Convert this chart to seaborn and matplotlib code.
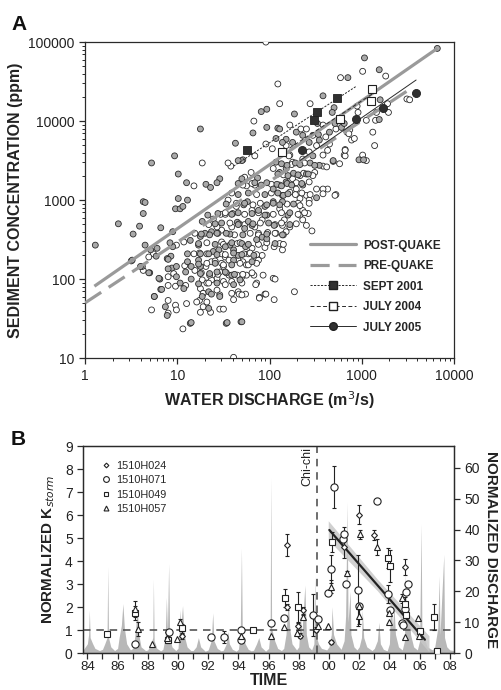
import numpy as np
import pandas as pd
import matplotlib
matplotlib.use("Agg")
import matplotlib.pyplot as plt
import seaborn as sns
from matplotlib.lines import Line2D
from matplotlib.ticker import LogLocator, NullFormatter, FixedLocator, FixedFormatter

sns.set_theme(style="ticks")
plt.rcParams['font.family'] = ['Liberation Sans', 'DejaVu Sans']

# ---------------- Panel A data (log10 discharge m3/s, log10 concentration ppm) -------------
gray_pts = [
    (3.03,4.80),(3.19,4.65),(2.85,4.55),(3.82,4.92),(2.58,4.32),(3.20,4.27),(1.97,4.15),(1.91,4.12),
    (2.70,4.17),(2.27,4.09),(3.19,4.02),(2.68,4.11),(1.25,3.90),(1.97,3.92),(2.09,3.91),(1.82,3.85),
    (2.18,3.77),(1.63,3.72),(2.53,3.83),(2.47,3.56),(2.69,3.49),(0.97,3.56),(0.72,3.47),(1.01,3.33),
    (1.46,3.27),(1.10,3.22),(1.31,3.20),(1.36,3.16),(1.43,3.22),(1.87,3.28),(0.63,2.98),(0.65,2.97),
    (0.63,2.83),(1.01,3.02),(1.11,3.00),(0.98,2.89),(1.03,2.89),(1.06,2.92),(0.36,2.70),(0.59,2.67),
    (0.52,2.57),(0.82,2.65),(0.95,2.60),(0.11,2.43),(0.65,2.43),(0.62,2.16),(0.70,2.08),(0.81,2.00),
    (0.75,1.78),(0.82,1.87),(0.89,1.54),(0.94,2.14),(0.93,2.29),(0.89,2.26),(1.14,1.44),(1.53,1.44),
    (1.69,1.46),(1.70,3.50),(1.66,3.50),(1.70,3.27),(1.84,3.22),
    (2.97,3.51),(3.02,3.51),(2.78,3.92),(2.81,3.97),(2.71,3.97),(2.69,3.50),(2.51,3.03),(2.36,3.19),
    (2.14,3.06),(2.04,3.14),(2.18,3.23),(2.40,3.33),(2.54,3.44),(2.54,3.76),(2.65,3.86),(2.52,3.97),
    (2.18,3.40),(2.11,3.35),(2.07,3.48),(2.14,3.73),(2.29,3.86),(2.25,3.73),(2.36,3.82),(2.07,3.78),
    (2.43,3.73),(2.11,3.90),
    (2.04,2.98),(2.14,2.98),(2.20,2.81),(2.05,2.68),(2.14,2.56),
    (1.27,2.73),(1.33,2.81),(1.72,2.94),(1.76,2.98),(1.88,2.87),(1.95,2.92),(1.97,2.81),(1.65,2.72),
    (1.67,2.70),(1.77,2.73),(1.81,2.68),(1.73,2.64),(1.57,2.57),(1.37,2.60),(1.43,2.58),(1.30,2.58),
    (1.25,2.54),(1.14,2.49),(0.95,2.41),(0.92,2.46),(0.78,2.39),(0.71,2.37),(0.77,2.29),(0.51,2.24),
    (0.60,2.16),(0.69,2.08),(0.90,2.25),(0.90,2.13),(0.99,2.16),(1.11,2.22),(1.09,2.09),(0.99,2.03),
    (0.80,2.01),(0.83,1.87),(1.03,1.95),(1.07,1.88),(1.15,2.00),(1.11,2.32),(1.25,2.32),(1.23,2.43),
    (1.23,2.24),(1.25,2.16),(1.25,2.07),(1.15,2.16),(1.39,2.35),(1.43,2.09),(1.52,2.09),(1.46,1.78),
    (1.34,1.84),(1.27,1.78),(1.34,1.63),(0.87,1.65),(0.75,1.78),(1.15,1.45),(1.54,1.45),(1.70,1.46),
    (1.68,1.99),(1.59,2.05),(1.61,2.24),(1.81,2.22),(1.83,2.30),(1.66,2.30),(1.61,2.37),(1.57,2.43),
    (1.70,2.45),(1.74,2.41),(1.86,2.50),(1.92,2.53),(1.97,2.51),(1.52,2.41),(1.45,2.37),
    # dense core
    (2.13,3.46),(2.19,3.44),(2.28,3.47),(2.33,3.45),(2.44,3.47),(2.49,3.44),
    (2.09,3.33),(2.20,3.31),(2.26,3.34),(2.31,3.32),(2.42,3.33),
    (1.66,3.21),(1.91,3.19),(1.97,3.22),(2.08,3.20),(2.13,3.18),(2.19,3.21),(2.24,3.19),(2.35,3.21),
    (1.66,3.07),(1.77,3.09),(1.95,3.07),(2.09,3.09),(2.15,3.06),(2.20,3.08),
    (1.53,2.95),(1.73,2.96),(1.97,2.94),(2.04,2.96),(2.11,2.94),(2.26,2.95),
    (1.44,2.83),(1.59,2.82),(1.66,2.84),(1.81,2.83),(1.95,2.81),(2.22,2.84),
    (1.41,2.70),(1.48,2.71),(1.66,2.69),(1.82,2.70),(1.99,2.71),(2.22,2.69),
    (1.26,2.57),(1.35,2.56),(1.53,2.58),(1.71,2.56),(1.97,2.57),
    (1.23,2.45),(1.41,2.44),(1.59,2.46),(1.77,2.44),(2.06,2.45),
    (1.34,2.32),(1.43,2.31),(1.61,2.33),(1.70,2.31),
    (1.23,2.19),(1.41,2.20),(1.59,2.18),
    (1.35,2.07),(1.62,2.06),(1.23,1.94),(1.43,1.95),(1.61,1.93),(1.37,1.81),
]
white_pts = [
    (1.47,2.82),(1.39,2.76),(1.52,2.82),(1.60,2.83),(1.64,2.92),(1.81,2.87),(1.92,2.75),(1.84,2.66),
    (1.88,2.58),(1.98,2.59),(1.48,2.62),(1.43,2.66),(1.19,2.58),(1.07,2.47),(0.99,2.43),(0.74,2.32),
    (0.69,2.28),(0.63,2.11),(1.08,2.17),(0.96,2.07),(0.90,2.03),(0.90,1.92),(0.98,1.91),(1.09,1.92),
    (1.18,2.32),(1.31,2.16),(1.27,1.99),(1.19,2.11),(1.32,2.32),(1.37,2.22),(1.41,2.23),(1.46,2.09),
    (1.50,2.16),(1.56,2.05),(1.59,1.97),(1.50,1.97),(1.43,2.01),(1.37,1.99),(1.35,2.05),(1.32,1.95),
    (1.43,1.86),(1.25,1.88),(1.28,1.82),(1.24,1.73),(1.28,1.65),(1.36,1.58),(1.25,1.58),(1.32,1.71),
    (1.21,1.71),(1.10,1.69),(0.98,1.67),(0.99,1.61),(0.90,1.57),(0.90,1.73),(0.72,1.61),(1.06,1.37),
    (1.46,1.62),(1.50,1.62),(1.61,1.74),(1.66,1.84),(1.67,1.81),(1.74,1.81),(1.89,1.77),(1.95,1.81),
    (1.86,1.95),(1.93,2.05),(1.83,2.05),(1.75,2.05),(1.70,2.03),(1.65,2.05),(1.66,2.24),(1.71,2.22),
    (1.75,2.18),(1.88,2.24),(1.92,2.30),(1.77,2.32),(1.72,2.32),(1.65,2.45),(1.81,2.39),(1.95,2.40),
    (1.48,2.47),(1.48,2.32),(1.52,2.28),(1.56,2.24),(1.48,2.20),(1.59,2.66),(1.61,1.01),
    (2.77,4.55),(3.01,4.63),(3.26,4.57),(2.09,4.47),(2.11,4.22),(2.44,4.22),(3.16,4.11),(3.29,4.11),
    (3.12,3.86),(2.95,4.19),(3.05,4.01),(2.96,4.11),(2.89,3.76),(2.84,3.86),(2.87,3.89),(2.82,3.64),
    (2.81,3.57),(3.05,3.50),(2.72,3.90),(2.76,3.46),(2.58,3.43),(2.62,3.42),(2.72,3.07),(2.63,3.14),
    (2.58,3.14),(2.51,3.14),(2.58,3.08),(2.40,3.06),(2.33,3.02),(2.43,3.00),(2.43,3.23),(2.29,3.14),
    (2.22,3.10),(2.11,3.19),(2.25,3.27),(2.33,3.31),(2.49,3.35),(2.58,3.57),(2.63,3.63),(2.65,3.71),
    (2.51,3.69),(2.61,3.80),(2.58,3.95),(2.43,3.61),(2.36,3.52),(2.25,3.48),(2.04,3.40),(2.18,3.69),
    (2.22,3.57),(2.34,3.90),(2.40,3.90),(2.47,3.82),(2.22,3.95),
    (2.11,2.89),(2.16,2.75),(2.14,2.68),(2.22,2.66),(2.33,2.81),(2.36,2.87),(2.42,2.83),(2.36,2.75),
    (2.40,2.68),(2.46,2.61),(2.07,2.58),(2.18,2.60),(2.05,2.41),(2.11,2.45),(2.14,2.37),(2.04,2.01),
    (2.27,1.84),(2.05,1.74),(2.31,2.96),(2.43,2.96),
    (3.49,4.28),(3.52,4.27),(3.28,4.22),(3.15,4.01),(3.14,3.69),(3.01,3.57),(2.92,3.78),(2.86,3.84),
    (2.71,3.06),(2.82,3.56),(2.82,3.63),(1.96,5.00),(1.83,4.00),(1.96,3.71),(2.21,3.56),(2.03,3.65),
    (1.27,3.47),(1.71,3.51),(1.58,3.43),(1.55,3.47),(1.84,3.56),(1.18,3.18),(1.84,3.19),(1.55,3.00),
    (0.50,2.23),(2.06,2.00),(1.96,1.81),(1.89,1.76),(1.85,1.93),(1.73,3.29),(1.80,3.35),(1.75,3.18),
    # dense core
    (2.24,3.45),(2.38,3.47),(2.15,3.32),(2.37,3.34),(2.47,3.31),
    (1.71,3.19),(1.81,3.21),(2.02,3.20),(2.29,3.22),
    (1.59,3.09),(1.86,3.07),(2.02,3.09),(2.28,3.07),(2.35,3.09),(2.44,3.07),
    (1.64,2.96),(1.82,2.94),(1.90,2.96),(2.19,2.95),(2.33,2.93),
    (1.52,2.84),(1.73,2.82),(1.88,2.84),(2.04,2.82),(2.13,2.84),(2.31,2.82),(2.38,2.84),
    (1.34,2.69),(1.57,2.71),(1.73,2.69),(1.90,2.71),(2.06,2.69),(2.13,2.71),(2.29,2.70),
    (1.44,2.58),(1.62,2.56),(1.79,2.58),(1.88,2.56),(2.06,2.58),(2.15,2.56),
    (1.32,2.46),(1.50,2.44),(1.68,2.46),(1.88,2.44),(1.97,2.46),(2.15,2.44),
    (1.24,2.33),(1.52,2.31),(1.79,2.33),(1.86,2.31),
    (1.32,2.20),(1.50,2.18),(1.68,2.20),(1.77,2.18),(1.86,2.20),
    (1.26,2.08),(1.44,2.06),(1.53,2.08),(1.71,2.06),(1.81,2.08),
    (1.34,1.95),(1.52,1.93),(1.70,1.95),(1.28,1.82),(1.46,1.80),(1.59,1.82),(1.70,1.80),
]

# storm events (log10 Q, log10 C)
sept2001_lq = [1.76, 2.48, 2.51, 2.73]
sept2001_lc = [3.63, 4.01, 4.11, 4.29]
july2004_lq = [2.13, 2.76, 3.10, 3.11]
july2004_lc = [3.61, 4.03, 4.26, 4.40]
july2005_lq = [2.35, 2.94, 3.23, 3.59]
july2005_lc = [3.63, 4.03, 4.16, 4.36]

# rating lines: (log10 Q start, log10 Q end), (log10 C start, log10 C end)
post_lq, post_lc = [0.10, 3.82], [1.91, 4.92]
pre_lq, pre_lc = [0.00, 3.53], [1.70, 4.41]
sept_line_lq, sept_line_lc = [1.61, 2.94], [3.43, 4.44]
july04_line_lq, july04_line_lc = [2.10, 3.15], [3.57, 4.37]
july05_line_lq, july05_line_lc = [2.33, 3.59], [3.50, 4.52]

# ---------------- Panel B data ---------------------------------------------------------
h024_t = [1989.36, 1990.24, 1994.17, 1997.19, 1997.19, 1997.92, 1998.10, 1998.27, 1999.13, 2000.10, 2000.96, 2001.98, 2003.00, 2005.00]
h024_k = [0.90, 0.72, 0.55, 4.68, 2.00, 1.16, 0.75, 1.85, 1.01, 0.48, 4.62, 6.01, 5.13, 3.74]
h024_e = [0.0, 0.10, 0.10, 0.48, 0.15, 0.15, 0.10, 0.15, 0.10, 0.08, 0.50, 0.42, 0.22, 0.35]

h071_t = [1987.15, 1989.38, 1992.20, 1993.04, 1994.17, 1994.17, 1996.18, 1997.00, 1998.96, 1999.30, 1999.93, 2000.13, 2000.35,
          2000.90, 2001.00, 2001.10, 2001.93, 2001.98, 2003.15, 2003.92, 2004.03, 2004.80, 2004.91, 2005.02, 2005.07, 2005.20]
h071_k = [0.39, 0.90, 0.69, 0.69, 0.98, 0.55, 1.29, 1.53, 1.65, 1.46, 2.60, 3.66, 7.22,
          4.96, 5.19, 3.02, 2.72, 2.03, 6.62, 2.56, 1.88, 1.30, 1.21, 1.91, 2.67, 2.99]
h071_e = [0, 0, 0, 0.25, 0, 0, 0, 0, 0.9, 0, 0, 0.6, 0.92,
          0, 0.3, 0, 1.55, 0, 0, 0.4, 0, 0, 0, 0, 0, 0]

h049_t = [1985.32, 1987.15, 1989.36, 1990.24, 1994.99, 1997.08, 1997.92, 2000.17, 2003.88, 2004.03, 2005.02, 2005.07, 2006.00, 2006.94, 2007.16]
h049_k = [0.82, 1.75, 0.58, 1.08, 0.98, 2.38, 2.02, 4.83, 4.13, 3.79, 2.12, 1.66, 0.94, 1.56, 0.07]
h049_e = [0.10, 0.30, 0.15, 0.20, 0, 0.40, 0.65, 0.45, 0.45, 0.70, 0.30, 0, 0, 0.55, 0]

h057_t = [1987.15, 1987.38, 1988.26, 1989.25, 1989.91, 1990.13, 1994.15, 1996.14, 1997.00, 1997.90, 1998.25, 1999.30, 1999.93,
          2000.13, 2001.16, 2001.98, 2002.00, 2002.02, 2003.15, 2003.96, 2003.98, 2004.80, 2005.00, 2005.86, 2005.97]
h057_k = [1.90, 1.04, 0.40, 0.65, 0.62, 1.37, 0.75, 0.75, 1.13, 0.87, 1.56, 1.16, 1.16,
          2.89, 3.47, 1.59, 2.05, 5.17, 4.62, 1.33, 1.73, 2.38, 0.69, 1.53, 0.75]
h057_e = [0.35, 0.30, 0, 0, 0, 0.10, 0, 0, 0, 0, 0.10, 0, 0,
          0.30, 0.10, 0.35, 0, 0.20, 0.35, 0, 0, 0.20, 0, 0, 0]

trend_t = [2000.02, 2006.35]
trend_k = [5.35, 0.58]
band_t = [1999.95, 2003.20, 2006.62]
band_lo = [4.92, 2.71, 0.05]
band_hi = [5.75, 3.21, 0.75]

chichi_t = 1999.2

disch_t = [1983.72, 1984.00, 1984.08, 1984.13, 1984.18, 1984.35, 1984.50, 1984.80,
           1985.00, 1985.15, 1985.30, 1985.35, 1985.40, 1985.55, 1985.80,
           1986.00, 1986.10, 1986.25, 1986.35, 1986.45, 1986.60, 1986.85,
           1987.00, 1987.10, 1987.20, 1987.30, 1987.40, 1987.55, 1987.85,
           1988.00, 1988.20, 1988.33, 1988.37, 1988.42, 1988.60, 1988.85,
           1989.00, 1989.15, 1989.23, 1989.30, 1989.38, 1989.45, 1989.60, 1989.85,
           1990.00, 1990.10, 1990.13, 1990.20, 1990.30, 1990.40, 1990.60, 1990.85,
           1991.00, 1991.20, 1991.35, 1991.50, 1991.80,
           1992.00, 1992.20, 1992.30, 1992.38, 1992.60, 1992.85,
           1993.00, 1993.20, 1993.30, 1993.40, 1993.60, 1993.85,
           1994.00, 1994.12, 1994.20, 1994.26, 1994.45, 1994.65, 1994.85,
           1995.00, 1995.20, 1995.35, 1995.50, 1995.80,
           1996.00, 1996.10, 1996.15, 1996.20, 1996.40, 1996.60, 1996.85,
           1997.00, 1997.15, 1997.30, 1997.40, 1997.55, 1997.85,
           1998.00, 1998.10, 1998.20, 1998.40, 1998.50, 1998.65, 1998.85,
           1999.00, 1999.05, 1999.12, 1999.30, 1999.50, 1999.85,
           2000.00, 2000.15, 2000.20, 2000.30, 2000.50, 2000.80,
           2001.00, 2001.10, 2001.20, 2001.26, 2001.40, 2001.45, 2001.65, 2001.85,
           2002.00, 2002.15, 2002.20, 2002.30, 2002.50, 2002.85,
           2003.00, 2003.20, 2003.30, 2003.40, 2003.60, 2003.85,
           2004.00, 2004.10, 2004.20, 2004.30, 2004.40, 2004.60, 2004.85,
           2005.00, 2005.05, 2005.15, 2005.30, 2005.40, 2005.60, 2005.85,
           2006.00, 2006.10, 2006.15, 2006.30, 2006.50, 2006.85,
           2007.00, 2007.20, 2007.30, 2007.35, 2007.60, 2007.65, 2007.80, 2008.00, 2008.27]
disch_q = [1.0, 3, 6, 14, 5, 3, 1.5, 0.8,
           1.2, 3, 5, 28, 5, 2, 0.8,
           1.5, 5, 9, 16, 8, 3, 1,
           1.5, 4, 8, 15, 6, 2, 0.8,
           1, 3, 5, 24, 4, 1.5, 0.7,
           1.2, 5, 18, 7, 29, 5, 2, 0.8,
           1.5, 8, 14, 9, 15.4, 6, 2, 0.8,
           0.8, 2, 5, 2, 0.6,
           1, 4, 13, 4, 1.5, 0.7,
           0.9, 3, 7, 3, 1.2, 0.6,
           1.2, 6, 34, 6, 3, 1.2, 0.7,
           0.9, 3, 5, 2, 0.6,
           1.5, 7, 57, 8, 4, 1.5, 0.8,
           1.5, 6, 17, 8, 3, 1,
           2, 12, 6, 22, 6, 2, 1,
           3, 25, 6, 3, 1.5, 1,
           2, 6, 15, 6, 3, 1.2,
           4, 12, 49, 10, 20, 6, 2, 1,
           2, 5, 14, 5, 2, 0.8,
           1.5, 4, 10, 3, 1.2, 0.7,
           3, 20, 8, 15, 6, 2, 1,
           4, 26, 10, 14, 6, 2, 1,
           4, 42, 8, 5, 2, 1,
           2, 8, 25, 6, 32, 5, 2, 1, 0.8]

# ---------------- Figure --------------------------------------------------------------
fig = plt.figure(figsize=(5.01, 6.90), dpi=100)
axA = fig.add_axes([0.170, 0.481, 0.736, 0.458])
axB = fig.add_axes([0.166, 0.0536, 0.740, 0.300])

ink = '#2a2a2a'

# Panel A
gq, gc = zip(*gray_pts)
wq, wc = zip(*white_pts)
dfA = pd.DataFrame({
    'Q': 10 ** np.r_[np.array(wq), np.array(gq)],
    'C': 10 ** np.r_[np.array(wc), np.array(gc)],
    'kind': ['white'] * len(wq) + ['gray'] * len(gq),
})
sns.scatterplot(data=dfA, x='Q', y='C', hue='kind', palette={'gray': '#a9a9a9', 'white': 'white'},
                edgecolor=ink, linewidth=0.6, s=18, legend=False, ax=axA, zorder=3)

axA.plot(10 ** np.array(post_lq), 10 ** np.array(post_lc), color='#9a9a9a', lw=2.3, zorder=4, solid_capstyle='butt')
axA.plot(10 ** np.array(pre_lq), 10 ** np.array(pre_lc), color='#9a9a9a', lw=2.3, ls=(0, (6, 2.8)), zorder=4)
axA.plot(10 ** np.array(sept_line_lq), 10 ** np.array(sept_line_lc), color=ink, lw=0.7, ls=(0, (2.2, 1.4)), zorder=5)
axA.plot(10 ** np.array(july04_line_lq), 10 ** np.array(july04_line_lc), color=ink, lw=0.7, ls=(0, (4, 2.5)), zorder=5)
axA.plot(10 ** np.array(july05_line_lq), 10 ** np.array(july05_line_lc), color=ink, lw=0.7, zorder=5)
axA.plot(10 ** np.array(sept2001_lq), 10 ** np.array(sept2001_lc), ls='none', marker='s', ms=6.2,
         mfc='#303030', mec='#202020', mew=0.6, zorder=6)
axA.plot(10 ** np.array(july2004_lq), 10 ** np.array(july2004_lc), ls='none', marker='s', ms=6.2,
         mfc='white', mec='#202020', mew=0.8, zorder=6)
axA.plot(10 ** np.array(july2005_lq), 10 ** np.array(july2005_lc), ls='none', marker='o', ms=5.8,
         mfc='#303030', mec='#202020', mew=0.6, zorder=6)

axA.set_xscale('log')
axA.set_yscale('log')
axA.set_xlim(1, 10000)
axA.set_ylim(10, 100000)
axA.xaxis.set_major_locator(FixedLocator([1, 10, 100, 1000, 10000]))
axA.xaxis.set_major_formatter(FixedFormatter(['1', '10', '100', '1000', '10000']))
axA.yaxis.set_major_locator(FixedLocator([10, 100, 1000, 10000, 100000]))
axA.yaxis.set_major_formatter(FixedFormatter(['10', '100', '1000', '10000', '100000']))
axA.xaxis.set_minor_locator(LogLocator(base=10, subs=np.arange(2, 10)))
axA.yaxis.set_minor_locator(LogLocator(base=10, subs=np.arange(2, 10)))
axA.xaxis.set_minor_formatter(NullFormatter())
axA.yaxis.set_minor_formatter(NullFormatter())
axA.tick_params(which='major', direction='out', length=4, width=0.9, color=ink, labelsize=10, labelcolor='#222')
axA.tick_params(which='minor', direction='out', length=2.5, width=0.7, color=ink)
axA.set_xlabel('WATER DISCHARGE (m$^3$/s)', fontsize=11.5, fontweight='bold', labelpad=5, color='#222')
axA.set_ylabel('SEDIMENT CONCENTRATION (ppm)', fontsize=11.5, fontweight='bold', labelpad=4, color='#222')
for sp in axA.spines.values():
    sp.set_color(ink)
    sp.set_linewidth(0.9)

handlesA = [
    Line2D([], [], color='#9a9a9a', lw=2.3, label='POST-QUAKE'),
    Line2D([], [], color='#9a9a9a', lw=2.3, ls=(0, (6, 2.8)), label='PRE-QUAKE'),
    Line2D([], [], color=ink, lw=0.7, ls=(0, (2.2, 1.4)), marker='s', ms=6, mfc='#303030', mec='#202020', label='SEPT 2001'),
    Line2D([], [], color=ink, lw=0.7, ls=(0, (4, 2.5)), marker='s', ms=6, mfc='white', mec='#202020', label='JULY 2004'),
    Line2D([], [], color=ink, lw=0.7, marker='o', ms=5.5, mfc='#303030', mec='#202020', label='JULY 2005'),
]
axA.legend(handles=handlesA, loc='upper left', bbox_to_anchor=(0.61, 0.375), frameon=False,
           prop={'weight': 'bold', 'size': 8.5}, handlelength=3.9, handletextpad=0.6,
           labelspacing=0.72, borderpad=0, borderaxespad=0)

# Panel B
axB2 = axB.twinx()
axB2.fill_between(disch_t, 0, disch_q, color='#b8b8b8', lw=0, zorder=1)
axB2.set_ylim(0, 67.1)
axB2.set_yticks([0, 10, 20, 30, 40, 50, 60])
axB2.tick_params(direction='out', length=4, width=0.9, color=ink, labelsize=10, labelcolor='#222')
axB2.set_ylabel('NORMALIZED DISCHARGE', rotation=-90, fontsize=11, fontweight='bold', labelpad=13, color='#222')
axB.set_zorder(axB2.get_zorder() + 1)
axB.patch.set_visible(False)

axB.fill_between(band_t, band_lo, band_hi, color='#c8c8c8', alpha=0.85, lw=0, zorder=2)
axB.axhline(1, color='#555555', lw=1.2, ls=(0, (4.5, 3.5)), zorder=2)
axB.axvline(chichi_t, color='#555555', lw=1.2, ls=(0, (4.5, 3.5)), zorder=2)
sns.lineplot(x=trend_t, y=trend_k, color='#222222', lw=1.6, ax=axB, zorder=3)
axB.text(chichi_t - 0.22, 8.97, 'Chi-chi', rotation=90, ha='right', va='top', fontsize=9, color='#222')

stations = [
    ('1510H024', h024_t, h024_k, h024_e, 'D', 3.0),
    ('1510H071', h071_t, h071_k, h071_e, 'o', 5.2),
    ('1510H049', h049_t, h049_k, h049_e, 's', 3.9),
    ('1510H057', h057_t, h057_k, h057_e, '^', 4.4),
]
for name, t, k, e, mk, ms in stations:
    t = np.array(t); k = np.array(k); e = np.array(e)
    has = e > 0
    axB.errorbar(t[has], k[has], yerr=e[has], fmt='none', ecolor='#222', elinewidth=0.8, capsize=1.6,
                 capthick=0.8, zorder=4)
    axB.plot(t, k, ls='none', marker=mk, ms=ms, mfc='white', mec='#222', mew=0.8, zorder=5, label=name)

axB.set_xlim(1983.72, 2008.27)
axB.set_ylim(0, 9)
years = list(range(1984, 2009))
axB.set_xticks(years)
axB.set_xticklabels([('%02d' % (y % 100)) if y % 2 == 0 else '' for y in years])
axB.set_yticks(range(0, 10))
axB.tick_params(direction='out', length=4, width=0.9, color=ink, labelsize=10, labelcolor='#222')
axB.tick_params(axis='x', labelsize=9.5, pad=2)
axB.set_xlabel('TIME', fontsize=11.5, fontweight='bold', labelpad=0, color='#222')
axB.set_ylabel(r'NORMALIZED K$_{\mathit{storm}}$', fontsize=11, fontweight='bold', labelpad=6, color='#222')
for ax in (axB, axB2):
    for sp in ax.spines.values():
        sp.set_color(ink)
        sp.set_linewidth(0.9)

axB.legend(loc='upper left', bbox_to_anchor=(0.05, 0.93), frameon=False, fontsize=7.8,
           handlelength=0.8, handletextpad=0.5, labelspacing=0.42, borderpad=0, borderaxespad=0,
           markerscale=0.8)

fig.text(0.022, 1 - 30 / 690, 'A', fontsize=15, fontweight='bold', color='#111')
fig.text(0.022, 1 - 445 / 690, 'B', fontsize=15, fontweight='bold', color='#111')

fig.savefig('out.png', dpi=100)
